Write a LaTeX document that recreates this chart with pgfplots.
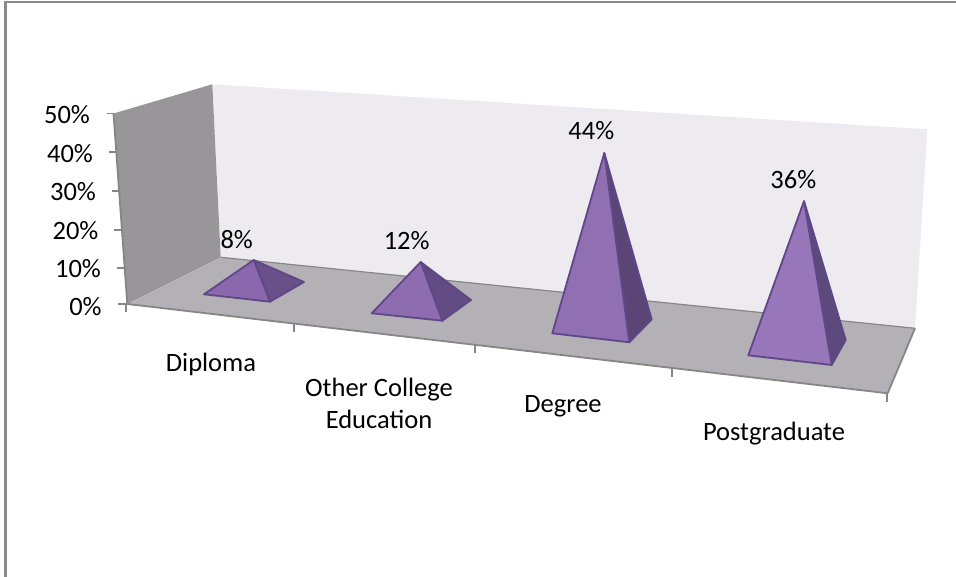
\documentclass[border=0pt]{standalone}
\usepackage{pgfplots}
\pgfplotsset{compat=1.18}
\usepackage{fontspec}
\setmainfont{Carlito}
\definecolor{frameline}{HTML}{8A8A8A}
\definecolor{axisline}{HTML}{868686}
\definecolor{backwall}{HTML}{EDEBF0}
\definecolor{sidewall}{HTML}{989699}
\definecolor{floorcol}{HTML}{B3B1B5}
\definecolor{edgecol}{HTML}{5F4788}
\definecolor{pyA}{HTML}{8B68AD}\definecolor{pyAs}{HTML}{6A5089}
\definecolor{pyB}{HTML}{8D6CAF}\definecolor{pyBs}{HTML}{634B83}
\definecolor{pyC}{HTML}{9070B2}\definecolor{pyCs}{HTML}{5B4577}
\definecolor{pyD}{HTML}{9777B9}\definecolor{pyDs}{HTML}{5D4A7C}

% One pyramid: left, front and right base corners, apex x, pixels per percent
% at that depth, the value; face colours come from \frontcol and \sidecol.
\newcommand{\pyramid}[9]{%
  \pgfmathsetmacro{\basey}{(#2+#6)/2}%
  \pgfmathsetmacro{\apexy}{\basey-#8*#9}%
  \edef\sideface{\noexpand\addplot[fill=\sidecol, draw=edgecol, line width=1.8pt, line join=round]}%
  \edef\frontface{\noexpand\addplot[fill=\frontcol, draw=edgecol, line width=1.8pt, line join=round]}%
  \sideface coordinates {(#3,#4) (#5,#6) (#7,\apexy)} --cycle;
  \frontface coordinates {(#1,#2) (#3,#4) (#7,\apexy)} --cycle;
}
\newcommand{\txt}[3]{\node[font=\fontsize{26.5}{32}\selectfont, text=black, inner sep=0pt, align=center] at (axis cs:#1,#2) {#3};}

\begin{document}
\begin{tikzpicture}
\useasboundingbox (0,0) rectangle (956pt,577pt);
\begin{axis}[
  scale only axis, width=956pt, height=577pt, at={(0,0)}, anchor=south west,
  xmin=0, xmax=956, ymin=0, ymax=577, y dir=reverse,
  axis lines=none, clip=false, enlargelimits=false]

  % chart frame: only the top and left sides are visible
  \addplot[draw=frameline, line width=2.6pt] coordinates {(5.3,577) (5.3,2.2) (956,2.2)};

  % walls and floor
  \addplot[fill=backwall, draw=none] coordinates {(212.3,84.3) (927.3,129.3) (915,328.3) (220.7,257.3)} --cycle;
  \addplot[fill=sidewall, draw=none] coordinates {(113.5,113.5) (212.3,84.3) (220.7,257.3) (127.3,304)} --cycle;
  \addplot[fill=floorcol, draw=none] coordinates {(127.3,304) (220.7,257.3) (915,328.3) (887.7,393.3)} --cycle;
  \addplot[draw=axisline, line width=1.2pt] coordinates {(220.7,257.3) (915,328.3)};
  \addplot[draw=axisline, line width=1.8pt] coordinates {(915,328.3) (887.7,393.3)};

  % value axis and its ticks
  \addplot[draw=axisline, line width=1.8pt] coordinates {(113.5,113.5) (127.3,304)};
  \addplot[draw=axisline, line width=1.8pt] coordinates {(106.7,113.5) (113.5,113.5)};
  \addplot[draw=axisline, line width=1.8pt] coordinates {(109.3,152.3) (116.3,152.3)};
  \addplot[draw=axisline, line width=1.8pt] coordinates {(111.7,191) (119,191)};
  \addplot[draw=axisline, line width=1.8pt] coordinates {(114,229.7) (121.7,229.7)};
  \addplot[draw=axisline, line width=1.8pt] coordinates {(116.7,267.7) (124.5,267.7)};
  \addplot[draw=axisline, line width=1.8pt] coordinates {(118.3,304) (127.3,304)};

  % category axis and its ticks
  \addplot[draw=axisline, line width=1.8pt] coordinates {(127.3,304) (887.7,393.3)};
  \addplot[draw=axisline, line width=1.8pt] coordinates {(126.3,304) (126.3,312)};
  \addplot[draw=axisline, line width=1.8pt] coordinates {(294,323.6) (294,332.5)};
  \addplot[draw=axisline, line width=1.8pt] coordinates {(475,344.9) (475,353.5)};
  \addplot[draw=axisline, line width=1.8pt] coordinates {(672.3,368) (672.3,376.7)};
  \addplot[draw=axisline, line width=1.8pt] coordinates {(887.3,393.3) (887.3,402)};

  % pyramids
  \def\frontcol{pyA}\def\sidecol{pyAs}
  \pyramid{204}{294.3}{270}{301.7}{304}{282}{253.7}{3.51}{8}
  \def\frontcol{pyB}\def\sidecol{pyBs}
  \pyramid{371.7}{313.3}{442.3}{320.7}{471}{300}{420.7}{3.72}{12}
  \def\frontcol{pyC}\def\sidecol{pyCs}
  \pyramid{552.3}{333.3}{629.3}{342.3}{651.7}{319.3}{604.3}{3.94}{44}
  \def\frontcol{pyD}\def\sidecol{pyDs}
  \pyramid{748.3}{355.3}{831.7}{365}{845.7}{340}{804}{4.07}{36}

  % data labels
  \txt{236.7}{239.5}{8\%}
  \txt{406.7}{241}{12\%}
  \txt{591.3}{131}{44\%}
  \txt{793.3}{180}{36\%}

  % value axis labels
  \txt{67}{115}{50\%}
  \txt{70}{153.5}{40\%}
  \txt{73}{192}{30\%}
  \txt{75.5}{230.5}{20\%}
  \txt{78}{269}{10\%}
  \txt{85.5}{307}{0\%}

  % category labels
  \txt{211}{364}{Diploma}
  \txt{379}{403}{Other College\\Education}
  \txt{563}{406}{Degree}
  \txt{774}{434}{Postgraduate}
\end{axis}
\end{tikzpicture}
\end{document}
